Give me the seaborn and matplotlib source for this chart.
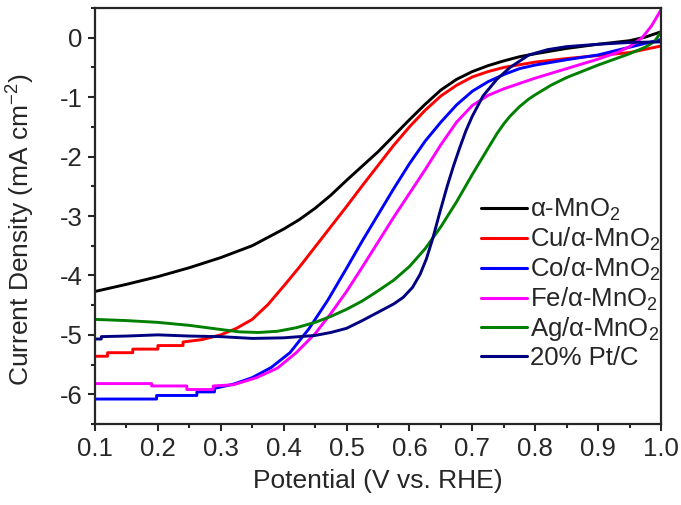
import matplotlib
matplotlib.use("Agg")
import matplotlib.pyplot as plt
from matplotlib.ticker import MultipleLocator
import seaborn as sns
import pandas as pd

labels = ["α-MnO$_2$", "Cu/α-MnO$_2$", "Co/α-MnO$_2$", "Fe/α-MnO$_2$", "Ag/α-MnO$_2$", "20% Pt/C"]
colors = ["#000000", "#FF0000", "#0000FF", "#FF00FF", "#008000", "#000080"]

x_mno2 = [0.1, 0.15, 0.2, 0.25, 0.3, 0.35, 0.4, 0.425, 0.45, 0.475, 0.5, 0.525, 0.55, 0.575, 0.6, 0.625,
          0.65, 0.675, 0.7, 0.725, 0.75, 0.775, 0.8, 0.85, 0.9, 0.95, 0.975, 1.0]
y_mno2 = [-4.27, -4.15, -4.02, -3.87, -3.70, -3.50, -3.22, -3.06, -2.87, -2.65, -2.40, -2.16, -1.92, -1.65, -1.38, -1.12,
          -0.88, -0.70, -0.57, -0.47, -0.39, -0.32, -0.27, -0.18, -0.11, -0.05, 0.01, 0.10]

x_cu = [0.1, 0.12, 0.12, 0.16, 0.16, 0.2, 0.2, 0.24, 0.24, 0.27, 0.3, 0.325, 0.35, 0.375, 0.4, 0.425, 0.45, 0.475,
        0.5, 0.525, 0.55, 0.575, 0.6, 0.625, 0.65, 0.675, 0.7, 0.725, 0.75, 0.8, 0.85, 0.9, 0.95, 1.0]
y_cu = [-5.36, -5.36, -5.30, -5.30, -5.24, -5.24, -5.18, -5.18, -5.12, -5.08, -5.00, -4.89, -4.74, -4.49, -4.18, -3.86, -3.52, -3.18,
        -2.84, -2.49, -2.15, -1.81, -1.50, -1.22, -0.98, -0.80, -0.66, -0.57, -0.50, -0.41, -0.35, -0.30, -0.25, -0.14]

x_co = [0.1, 0.198, 0.198, 0.262, 0.262, 0.29, 0.29, 0.32, 0.35, 0.38, 0.41, 0.44, 0.47, 0.5, 0.525, 0.55, 0.575,
        0.6, 0.625, 0.65, 0.675, 0.7, 0.725, 0.75, 0.775, 0.8, 0.85, 0.9, 0.95, 1.0]
y_co = [-6.08, -6.08, -6.02, -6.02, -5.96, -5.96, -5.90, -5.83, -5.72, -5.55, -5.30, -4.90, -4.42, -3.88, -3.42, -2.98, -2.54,
        -2.12, -1.74, -1.42, -1.13, -0.90, -0.74, -0.62, -0.52, -0.46, -0.37, -0.29, -0.16, -0.03]

x_fe = [0.1, 0.19, 0.19, 0.246, 0.246, 0.288, 0.288, 0.32, 0.357, 0.39, 0.42, 0.45, 0.475, 0.5, 0.525, 0.55, 0.575,
        0.6, 0.625, 0.65, 0.675, 0.7, 0.725, 0.75, 0.775, 0.8, 0.85, 0.9, 0.93, 0.95, 0.97, 0.985, 1.0]
y_fe = [-5.82, -5.82, -5.86, -5.86, -5.92, -5.92, -5.86, -5.84, -5.72, -5.56, -5.30, -4.98, -4.64, -4.27, -3.86, -3.44, -3.02,
        -2.62, -2.22, -1.80, -1.42, -1.14, -0.97, -0.86, -0.77, -0.68, -0.52, -0.36, -0.25, -0.15, 0.00, 0.20, 0.47]

x_ag = [0.1, 0.15, 0.2, 0.25, 0.3, 0.33, 0.36, 0.39, 0.42, 0.45, 0.475, 0.5, 0.525, 0.55, 0.575, 0.6, 0.625, 0.65,
        0.675, 0.7, 0.725, 0.74, 0.75, 0.76, 0.775, 0.79, 0.8, 0.825, 0.85, 0.9, 0.95, 0.975, 0.99, 1.0]
y_ag = [-4.74, -4.76, -4.79, -4.84, -4.91, -4.95, -4.96, -4.94, -4.88, -4.79, -4.69, -4.57, -4.43, -4.26, -4.08, -3.85, -3.55, -3.18,
        -2.76, -2.30, -1.86, -1.60, -1.45, -1.32, -1.16, -1.03, -0.96, -0.80, -0.67, -0.46, -0.27, -0.16, -0.06, 0.10]

x_pt = [0.1, 0.11, 0.11, 0.15, 0.2, 0.25, 0.3, 0.35, 0.4, 0.45, 0.475, 0.5, 0.525, 0.55, 0.575, 0.59, 0.605, 0.617,
        0.627, 0.637, 0.648, 0.66, 0.67, 0.68, 0.69, 0.7, 0.717, 0.739, 0.76, 0.79, 0.82, 0.85, 0.9, 0.95, 1.0]
y_pt = [-5.07, -5.07, -5.03, -5.02, -5.00, -5.02, -5.03, -5.06, -5.05, -5.01, -4.96, -4.89, -4.76, -4.62, -4.48, -4.37, -4.20, -3.98,
        -3.72, -3.38, -2.95, -2.50, -2.16, -1.85, -1.56, -1.32, -0.98, -0.70, -0.50, -0.29, -0.20, -0.15, -0.11, -0.08, -0.07]

series_x = [x_mno2, x_cu, x_co, x_fe, x_ag, x_pt]
series_y = [y_mno2, y_cu, y_co, y_fe, y_ag, y_pt]

frames = []
for lab, xs, ys in zip(labels, series_x, series_y):
    frames.append(pd.DataFrame({"x": xs, "y": ys, "sample": lab}))
df = pd.concat(frames, ignore_index=True)

sns.set_style("ticks")
plt.rcParams["font.family"] = ["Liberation Sans", "DejaVu Sans"]
plt.rcParams["mathtext.fontset"] = "custom"
plt.rcParams["mathtext.rm"] = "Liberation Sans"
plt.rcParams["mathtext.it"] = "Liberation Sans:italic"
plt.rcParams["mathtext.bf"] = "Liberation Sans:bold"

fig = plt.figure(figsize=(6.81, 5.05), dpi=100)
ax = fig.add_axes([95 / 681, 1 - 424 / 505, 566 / 681, 416 / 505])

sns.lineplot(data=df, x="x", y="y", hue="sample", palette=dict(zip(labels, colors)),
             hue_order=labels, sort=False, estimator=None, units="sample", linewidth=2.1, ax=ax, legend=True)

ax.set_xlim(0.1, 1.0)
ax.set_ylim(-6.5, 0.5)
ax.xaxis.set_minor_locator(MultipleLocator(0.05))
ax.yaxis.set_minor_locator(MultipleLocator(0.5))
ax.set_xticks([0.1, 0.2, 0.3, 0.4, 0.5, 0.6, 0.7, 0.8, 0.9, 1.0])
ax.set_xticklabels(["0.1", "0.2", "0.3", "0.4", "0.5", "0.6", "0.7", "0.8", "0.9", "1.0"])
ax.set_yticks([0, -1, -2, -3, -4, -5, -6])
ax.set_yticklabels(["0", "-1", "-2", "-3", "-4", "-5", "-6"])

ax.tick_params(axis="both", which="major", direction="out", length=5, width=1.5, labelsize=18.5, pad=4)
ax.tick_params(axis="both", which="minor", direction="out", length=3, width=1.5)
for s in ax.spines.values():
    s.set_linewidth(1.6)
    s.set_visible(True)

ax.set_xlabel("Potential (V vs. RHE)", fontsize=19, labelpad=6)
ax.set_ylabel("Current Density (mA cm$^{\\mathregular{-2}}$)", fontsize=19)
ax.yaxis.set_label_coords(-0.102, 0.466)

handles, labs = ax.get_legend_handles_labels()
leg = ax.legend(handles, labs, loc="upper left", bbox_to_anchor=(0.682, 0.545), frameon=False,
                fontsize=18.5, handlelength=1.8, handletextpad=0.1, labelspacing=0.1,
                borderpad=0, borderaxespad=0)
for h in leg.get_lines():
    h.set_linewidth(2.2)

fig.savefig("out.png", dpi=100)
